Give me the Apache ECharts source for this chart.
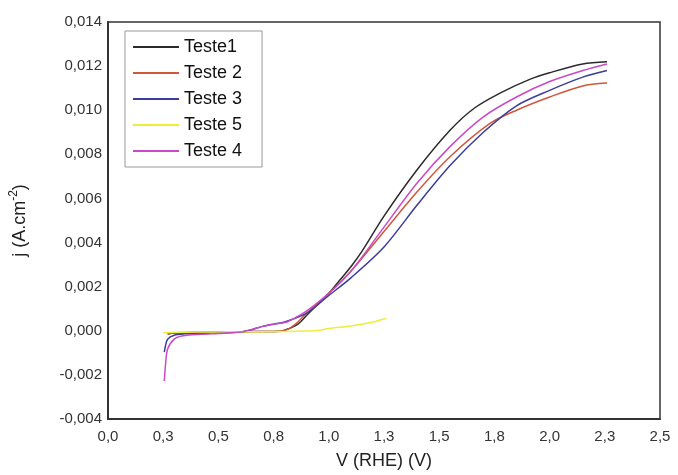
<!DOCTYPE html>
<html><head><meta charset="utf-8">
<script src="https://cdn.jsdelivr.net/npm/echarts@6/dist/echarts.min.js"></script>
<style>html,body{margin:0;padding:0;background:#fff}#c{width:678px;height:475px}</style>
</head><body><div id="c"></div>
<script>
var seriesNames = ['Teste1', 'Teste 2', 'Teste 3', 'Teste 5', 'Teste 4'];
var xTickLabels = ['0,0', '0,3', '0,5', '0,8', '1,0', '1,3', '1,5', '1,8', '2,0', '2,3', '2,5'];
var yTickLabels = ['-0,004', '-0,002', '0,000', '0,002', '0,004', '0,006', '0,008', '0,010', '0,012', '0,014'];

var vTeste1 = [0.27, 0.3, 0.4, 0.5, 0.6, 0.7, 0.78, 0.82, 0.86, 0.9, 0.95, 1.0, 1.05, 1.1, 1.15, 1.25, 1.4, 1.55, 1.66, 1.78, 1.91, 2.0, 2.15, 2.26];
var jTeste1 = [-0.00015, -0.0001, -0.00008, -0.00006, -0.00004, -0.00003, -0.00002, 0.0001, 0.0003, 0.0007, 0.0012, 0.0017, 0.0023, 0.0029, 0.0036, 0.0052, 0.0073, 0.0091, 0.0101, 0.0108, 0.0114, 0.0117, 0.0121, 0.0122];

var vTeste2 = [0.27, 0.3, 0.4, 0.5, 0.6, 0.7, 0.78, 0.82, 0.86, 0.9, 1.0, 1.1, 1.25, 1.4, 1.55, 1.73, 1.85, 2.0, 2.15, 2.26];
var jTeste2 = [-0.00015, -0.0001, -0.00006, -0.00005, -0.00004, -0.00003, -0.00002, 0.0001, 0.0004, 0.0008, 0.0017, 0.0027, 0.0045, 0.0063, 0.0079, 0.0094, 0.0100, 0.0106, 0.0111, 0.01123];

var vTeste3 = [0.255, 0.26, 0.27, 0.3, 0.35, 0.4, 0.5, 0.6, 0.65, 0.7, 0.75, 0.8, 0.9, 1.0, 1.1, 1.25, 1.4, 1.55, 1.7, 1.85, 2.0, 2.15, 2.26];
var jTeste3 = [-0.00097, -0.0007, -0.00038, -0.0002, -0.00014, -0.00012, -0.0001, -0.00005, 0.00005, 0.0002, 0.0003, 0.0004, 0.0008, 0.0016, 0.0024, 0.0038, 0.0057, 0.0075, 0.009, 0.0102, 0.0109, 0.0115, 0.0118];

var vTeste5 = [0.25, 0.3, 0.4, 0.5, 0.6, 0.7, 0.8, 0.9, 0.95, 1.0, 1.1, 1.2, 1.26];
var jTeste5 = [-0.00008, -0.00007, -0.00006, -0.00005, -0.00004, -0.00004, -0.00003, -0.00001, 0.00001, 0.0001, 0.00022, 0.0004, 0.00057];

var vTeste4 = [0.255, 0.26, 0.27, 0.3, 0.34, 0.42, 0.5, 0.6, 0.65, 0.7, 0.75, 0.81, 0.85, 0.9, 1.0, 1.1, 1.25, 1.4, 1.55, 1.7, 1.85, 2.0, 2.15, 2.26];
var jTeste4 = [-0.00228, -0.0016, -0.00083, -0.00038, -0.00023, -0.00016, -0.00012, -0.00006, 0.00005, 0.0002, 0.0003, 0.0004, 0.0006, 0.0009, 0.0017, 0.0027, 0.0047, 0.0067, 0.00836, 0.0097, 0.0106, 0.0113, 0.0118, 0.0121];

var colors = ['#2b2b2b', '#d0573a', '#3c3c9c', '#eeee3a', '#c84ac8'];

function zip(v, j) { return v.map(function (x, i) { return [x, j[i]]; }); }
var allV = [vTeste1, vTeste2, vTeste3, vTeste5, vTeste4];
var allJ = [jTeste1, jTeste2, jTeste3, jTeste5, jTeste4];

var chart = echarts.init(document.getElementById('c'), null, {renderer: 'canvas'});
var font = 'Liberation Sans, Arial, sans-serif';
chart.setOption({
  animation: false,
  backgroundColor: '#fff',
  color: colors,
  textStyle: {fontFamily: font},
  grid: {left: 107, right: 18, top: 22, bottom: 55, show: true, borderColor: '#333', borderWidth: 1.5, backgroundColor: 'transparent'},
  legend: {
    orient: 'vertical', left: 125, top: 31,
    data: seriesNames.map(function (n) { return {name: n, icon: 'rect'}; }),
    itemWidth: 46, itemHeight: 2, itemGap: 8,
    borderColor: '#999', borderWidth: 1, padding: [7, 20, 7, 8],
    textStyle: {fontSize: 18, color: '#111', fontFamily: font}
  },
  xAxis: {
    type: 'value', min: 0, max: 2.5, interval: 0.25,
    name: 'V (RHE) (V)', nameLocation: 'middle', nameGap: 33,
    nameTextStyle: {fontSize: 18, color: '#222'},
    axisLine: {show: true, onZero: false, lineStyle: {color: '#333', width: 2}},
    axisTick: {show: false},
    splitLine: {show: false},
    axisLabel: {fontSize: 15, color: '#333', margin: 10,
      formatter: function (v) { return xTickLabels[Math.round(v / 0.25)]; }}
  },
  yAxis: {
    type: 'value', min: -0.004, max: 0.014, interval: 0.002,
    name: '{a|j (A.cm}{s|-2}{a|)}', nameLocation: 'middle', nameGap: 76, nameRotate: 90,
    nameTextStyle: {rich: {
      a: {fontSize: 18, color: '#222', fontFamily: font},
      s: {fontSize: 12, color: '#222', fontFamily: font, verticalAlign: 'top', lineHeight: 24}
    }},
    axisLine: {show: true, onZero: false, lineStyle: {color: '#333', width: 2}},
    axisTick: {show: false},
    splitLine: {show: false},
    axisLabel: {fontSize: 15, color: '#333', margin: 6,
      formatter: function (v) { return yTickLabels[Math.round((v + 0.004) / 0.002)]; }}
  },
  series: seriesNames.map(function (n, i) {
    return {
      name: n, type: 'line', data: zip(allV[i], allJ[i]),
      showSymbol: false, symbol: 'none', smooth: 0.3,
      lineStyle: {width: 1.5, color: colors[i]}
    };
  })
});
</script></body></html>
